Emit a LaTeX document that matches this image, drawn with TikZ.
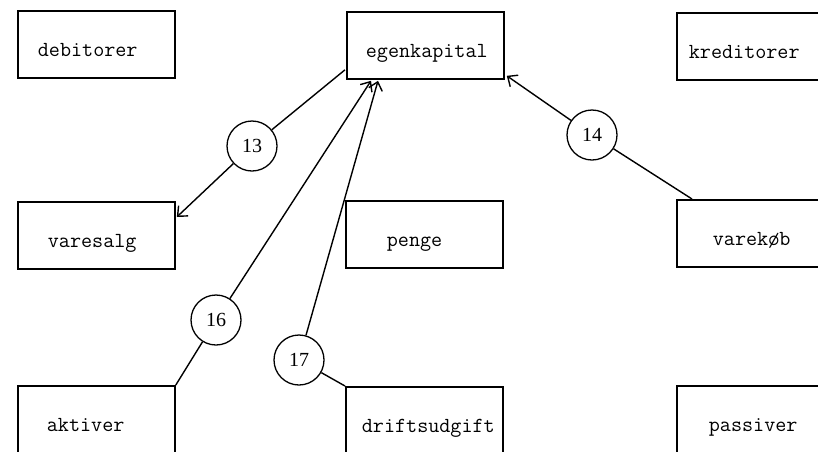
\documentclass[tikz,border=0pt]{standalone}
\usepackage{fontspec}
\setmainfont{Liberation Serif}
\usetikzlibrary{arrows.meta, calc}

\begin{document}
\begin{tikzpicture}[
    x=1pt, y=-1pt,
    acct/.style={rectangle, draw, line width=1.8pt, anchor=north west, minimum height=67pt,
        text width=157pt, inner xsep=0pt, inner ysep=0pt, align=left,
        text height=25pt, text depth=0pt, font=\fontsize{21.5}{23}\selectfont\ttfamily},
    post/.style={circle, draw, line width=1.3pt, minimum size=50pt, inner sep=0pt,
        font=\fontsize{20}{22}\selectfont},
    link/.style={line width=1.4pt},
    arrow/.style={link, -{Straight Barb[length=8pt, width=14pt]}}
]
    \useasboundingbox[fill=white] (0,0) rectangle (818,451);

    % accounts
    \node[acct] (debitorer)    at (17,10)   {\hspace*{20pt}debitorer};
    \node[acct] (egenkapital)  at (346,11)  {\hspace*{19pt}egenkapital};
    \node[acct] (kreditorer)   at (676,12)  {\hspace*{12pt}kreditorer};
    \node[acct] (varesalg)     at (17,201)  {\hspace*{30pt}varesalg};
    \node[acct] (penge)        at (345,200) {\hspace*{41pt}penge};
    \node[acct] (varekob)      at (676,199) {\hspace*{36pt}varekøb};
    \node[acct] (aktiver)      at (17,385)  {\hspace*{29pt}aktiver};
    \node[acct] (driftsudgift) at (345,386) {\hspace*{16pt}driftsudgift};
    \node[acct] (passiver)     at (676,385) {\hspace*{32pt}passiver};

    % postings
    \node[post] (p13) at (252,146) {13};
    \node[post] (p14) at (592,135) {14};
    \node[post] (p16) at (216,320) {16};
    \node[post] (p17) at (299,360) {17};

    \draw[link] ($(egenkapital.south west)+(-1,-10)$) -- (p13);
    \draw[arrow] (p13) -- ($(varesalg.north east)+(1,16)$);

    \draw[link] ($(varekob.north west)+(16,0)$) -- (p14);
    \draw[arrow] (p14) -- ($(egenkapital.south east)+(2,-4)$);

    \draw[link] (aktiver.north east) -- (p16);
    \draw[arrow] (p16) -- ($(egenkapital.south west)+(25,1)$);

    \draw[link] (driftsudgift.north west) -- (p17);
    \draw[arrow] (p17) -- ($(egenkapital.south west)+(32,1)$);
\end{tikzpicture}
\end{document}
